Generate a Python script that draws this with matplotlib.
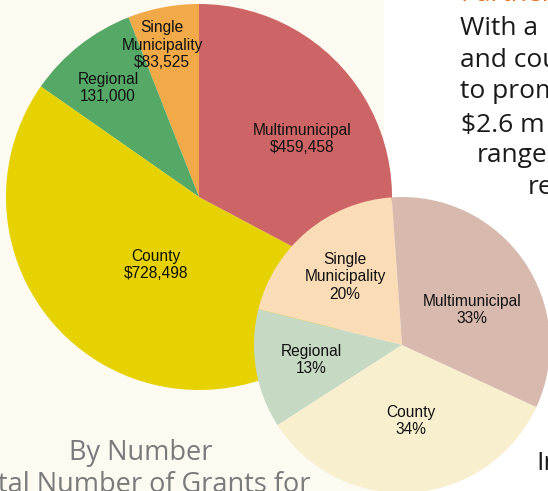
import matplotlib
matplotlib.use("Agg")
import matplotlib.pyplot as plt
from matplotlib.patches import Rectangle

# ---------------- data ----------------
categories = ["Single\nMunicipality", "Regional", "County", "Multimunicipal"]
amounts = [83525, 131000, 728498, 459458]          # By amount ($)
amount_labels = ["$83,525", "131,000", "$728,498", "$459,458"]
number_pct = [20, 13, 34, 33]                       # By number (%)

big_colors = ["#F2AA48", "#55A866", "#E6D200", "#CD6566"]
small_colors = ["#FADCB6", "#C6D9C3", "#F8EFCF", "#D8B9AE"]

body_lines = ["With a", "and cou", "to prom", "$2.6 m", "range", "re"]

# ---------------- figure ----------------
W, H = 548, 491
fig = plt.figure(figsize=(W / 100, H / 100), dpi=100, facecolor="white")
ax = fig.add_axes([0, 0, 1, 1])
ax.set_xlim(0, W)
ax.set_ylim(0, H)
ax.axis("off")

def Y(y):  # image y -> axes y
    return H - y

# cream page background on the left
ax.add_patch(Rectangle((0, 0), 384, H, facecolor="#FDFAF2", edgecolor="none", zorder=0))

# big pie (by amount)
ax.pie(amounts, colors=big_colors, startangle=90, counterclock=True,
       center=(199, Y(197)), radius=193, frame=True,
       wedgeprops=dict(linewidth=0))

# small pie (by number)
ax.pie(number_pct, colors=small_colors, startangle=94, counterclock=True,
       center=(402, Y(345)), radius=148, frame=True,
       wedgeprops=dict(linewidth=0))

ax.set_xlim(0, W)
ax.set_ylim(0, H)
ax.set_aspect("auto")
ax.axis("off")

lab_font = dict(family=["Liberation Sans", "DejaVu Sans"], fontsize=11.2,
                color="#111111", ha="center", va="center", linespacing=1.2, zorder=5)

big_pos = [(162, 45), (108, 88), (156, 265), (302, 139)]
for (x, y), c, v in zip(big_pos, categories, amount_labels):
    ax.text(x, Y(y), f"{c}\n{v}", **lab_font)

small_pos = [(345, 277), (311, 360), (411, 421), (472, 310)]
for (x, y), c, v in zip(small_pos, categories, number_pct):
    ax.text(x, Y(y), f"{c}\n{v}%", **lab_font)

# right-hand body text (cropped)
body_font = dict(family=["Open Sans", "DejaVu Sans"], fontsize=19, color="#1a1a1a",
                 ha="left", va="center", zorder=6)
body_pos = [(460, 28), (460, 60), (460, 91), (461, 125), (477, 155), (528, 187)]
for (x, y), t in zip(body_pos, body_lines):
    ax.text(x, Y(y), t, **body_font)

# orange heading cut at the top
ax.text(460, Y(0.8), "Partners", family=["Open Sans", "DejaVu Sans"], fontsize=19,
        color="#E8731E", ha="left", va="baseline", zorder=6)

# bottom right cropped word
ax.text(536, Y(463), "In", family=["Open Sans", "DejaVu Sans"], fontsize=19,
        color="#1a1a1a", ha="left", va="center", zorder=6)

# captions under big pie
ax.text(141, Y(453), "By Number", family=["Open Sans", "DejaVu Sans"], fontsize=19.5,
        color="#7a7a7a", ha="center", va="center", zorder=6)
ax.text(-2, Y(485), "tal Number of Grants for", family=["Open Sans", "DejaVu Sans"],
        fontsize=19.5, color="#7a7a7a", ha="left", va="center", zorder=6)

fig.savefig("out.png", dpi=100, facecolor="white")
